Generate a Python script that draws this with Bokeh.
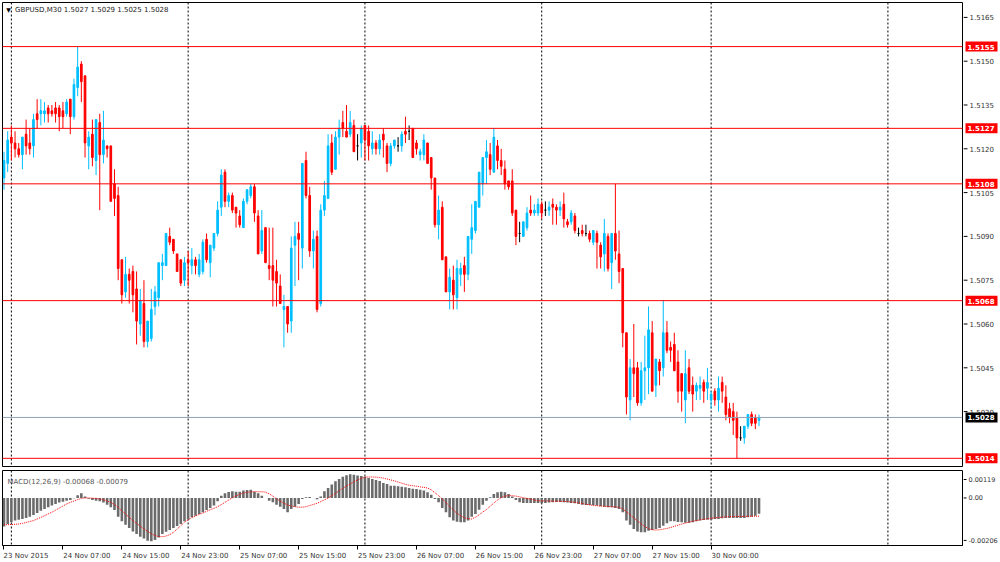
import numpy as np
from bokeh.plotting import figure
from bokeh.layouts import column, row
from bokeh.models import Range1d, FixedTicker, Span, Label, ColumnDataSource, LinearAxis
from bokeh.core.properties import value
from bokeh.embed import file_html
from bokeh.resources import INLINE

# ---------------- data ----------------
symbol_text = "GBPUSD,M30  1.5027 1.5029 1.5025 1.5028"
macd_text = "MACD(12,26,9) -0.00068 -0.00079"

opens = [
    1.5110, 1.5115, 1.5124, 1.5122, 1.5120, 1.5118, 1.5125, 1.5122, 1.5121, 1.5132,
    1.5132, 1.5132, 1.5134, 1.5133, 1.5134, 1.5134, 1.5133, 1.5132, 1.5137, 1.5131,
    1.5141, 1.5149, 1.5145, 1.5121, 1.5125, 1.5116, 1.5129, 1.5118, 1.5121, 1.5121,
    1.5108, 1.5104, 1.5082, 1.5071, 1.5077, 1.5078, 1.5072, 1.5060, 1.5067, 1.5054,
    1.5055, 1.5066, 1.5069, 1.5080, 1.5080, 1.5090, 1.5089, 1.5084, 1.5082, 1.5075,
    1.5082, 1.5080, 1.5082, 1.5077, 1.5078, 1.5089, 1.5081, 1.5086, 1.5091, 1.5100,
    1.5112, 1.5102, 1.5104, 1.5100, 1.5097, 1.5093, 1.5102, 1.5104, 1.5107, 1.5097,
    1.5085, 1.5093, 1.5080, 1.5080, 1.5078, 1.5073, 1.5065, 1.5066, 1.5061, 1.5087,
    1.5091, 1.5086, 1.5116, 1.5104, 1.5085, 1.5090, 1.5067, 1.5099, 1.5103, 1.5122,
    1.5113, 1.5124, 1.5129, 1.5126, 1.5125, 1.5128, 1.5121, 1.5122, 1.5128, 1.5126,
    1.5120, 1.5122, 1.5120, 1.5125, 1.5121, 1.5115, 1.5121, 1.5121, 1.5121, 1.5126,
    1.5126, 1.5127, 1.5122, 1.5118, 1.5118, 1.5122, 1.5117, 1.5110, 1.5094, 1.5100,
    1.5083, 1.5071, 1.5075, 1.5069, 1.5077, 1.5080, 1.5077, 1.5089, 1.5092, 1.5100,
    1.5108, 1.5117, 1.5118, 1.5112, 1.5121, 1.5116, 1.5113, 1.5109, 1.5109, 1.5099,
    1.5091, 1.5090, 1.5093, 1.5099, 1.5098, 1.5098, 1.5101, 1.5099, 1.5099, 1.5101,
    1.5100, 1.5099, 1.5101, 1.5095, 1.5095, 1.5097, 1.5091, 1.5092, 1.5091, 1.5091,
    1.5088, 1.5091, 1.5087, 1.5084, 1.5090, 1.5081, 1.5091, 1.5084, 1.5079, 1.5057,
    1.5034, 1.5045, 1.5045, 1.5033, 1.5044, 1.5045, 1.5057, 1.5039, 1.5047, 1.5045,
    1.5057, 1.5052, 1.5053, 1.5047, 1.5043, 1.5034, 1.5045, 1.5039, 1.5037, 1.5038,
    1.5040, 1.5038, 1.5034, 1.5037, 1.5034, 1.5040, 1.5035, 1.5031, 1.5030, 1.5028,
    1.5021, 1.5021, 1.5025, 1.5029, 1.5028, 1.5027,
]
highs = [
    1.5119, 1.5126, 1.5128, 1.5126, 1.5122, 1.5124, 1.5130, 1.5127, 1.5132, 1.5137,
    1.5137, 1.5136, 1.5135, 1.5135, 1.5136, 1.5135, 1.5136, 1.5137, 1.5137, 1.5144,
    1.5155, 1.5150, 1.5145, 1.5126, 1.5130, 1.5130, 1.5132, 1.5133, 1.5121, 1.5121,
    1.5113, 1.5107, 1.5082, 1.5083, 1.5079, 1.5080, 1.5078, 1.5072, 1.5075, 1.5061,
    1.5072, 1.5073, 1.5081, 1.5084, 1.5091, 1.5093, 1.5089, 1.5084, 1.5082, 1.5083,
    1.5085, 1.5086, 1.5083, 1.5084, 1.5089, 1.5091, 1.5087, 1.5091, 1.5102, 1.5113,
    1.5113, 1.5105, 1.5105, 1.5100, 1.5099, 1.5103, 1.5106, 1.5108, 1.5108, 1.5099,
    1.5099, 1.5093, 1.5093, 1.5093, 1.5082, 1.5077, 1.5070, 1.5066, 1.5090, 1.5095,
    1.5095, 1.5115, 1.5119, 1.5107, 1.5092, 1.5092, 1.5101, 1.5109, 1.5125, 1.5125,
    1.5126, 1.5130, 1.5133, 1.5135, 1.5133, 1.5130, 1.5125, 1.5128, 1.5128, 1.5128,
    1.5126, 1.5123, 1.5125, 1.5127, 1.5122, 1.5122, 1.5123, 1.5124, 1.5126, 1.5131,
    1.5128, 1.5127, 1.5123, 1.5120, 1.5125, 1.5122, 1.5117, 1.5110, 1.5104, 1.5102,
    1.5083, 1.5079, 1.5080, 1.5082, 1.5081, 1.5083, 1.5090, 1.5101, 1.5102, 1.5112,
    1.5117, 1.5123, 1.5122, 1.5127, 1.5123, 1.5120, 1.5116, 1.5109, 1.5113, 1.5099,
    1.5095, 1.5095, 1.5100, 1.5104, 1.5101, 1.5103, 1.5102, 1.5102, 1.5102, 1.5103,
    1.5101, 1.5102, 1.5105, 1.5096, 1.5099, 1.5098, 1.5093, 1.5094, 1.5094, 1.5092,
    1.5092, 1.5092, 1.5088, 1.5096, 1.5091, 1.5091, 1.5108, 1.5092, 1.5079, 1.5057,
    1.5048, 1.5060, 1.5047, 1.5047, 1.5056, 1.5066, 1.5061, 1.5048, 1.5048, 1.5068,
    1.5061, 1.5054, 1.5057, 1.5051, 1.5043, 1.5051, 1.5048, 1.5042, 1.5040, 1.5042,
    1.5041, 1.5045, 1.5037, 1.5038, 1.5042, 1.5042, 1.5039, 1.5033, 1.5033, 1.5030,
    1.5025, 1.5025, 1.5029, 1.5030, 1.5029, 1.5029,
]
lows = [
    1.5106, 1.5112, 1.5116, 1.5117, 1.5117, 1.5113, 1.5118, 1.5118, 1.5117, 1.5127,
    1.5128, 1.5129, 1.5129, 1.5131, 1.5129, 1.5126, 1.5127, 1.5131, 1.5125, 1.5130,
    1.5138, 1.5136, 1.5117, 1.5113, 1.5114, 1.5111, 1.5099, 1.5115, 1.5117, 1.5102,
    1.5097, 1.5075, 1.5067, 1.5069, 1.5067, 1.5064, 1.5053, 1.5056, 1.5052, 1.5052,
    1.5054, 1.5063, 1.5066, 1.5075, 1.5080, 1.5087, 1.5084, 1.5078, 1.5073, 1.5073,
    1.5073, 1.5077, 1.5077, 1.5076, 1.5077, 1.5081, 1.5076, 1.5085, 1.5090, 1.5097,
    1.5100, 1.5100, 1.5098, 1.5093, 1.5093, 1.5093, 1.5101, 1.5103, 1.5095, 1.5084,
    1.5084, 1.5081, 1.5075, 1.5066, 1.5066, 1.5067, 1.5052, 1.5057, 1.5057, 1.5073,
    1.5075, 1.5079, 1.5103, 1.5083, 1.5079, 1.5064, 1.5066, 1.5097, 1.5103, 1.5111,
    1.5113, 1.5118, 1.5124, 1.5124, 1.5124, 1.5119, 1.5116, 1.5117, 1.5116, 1.5116,
    1.5118, 1.5118, 1.5118, 1.5117, 1.5112, 1.5114, 1.5120, 1.5119, 1.5119, 1.5122,
    1.5123, 1.5117, 1.5118, 1.5116, 1.5116, 1.5115, 1.5106, 1.5093, 1.5089, 1.5082,
    1.5071, 1.5065, 1.5065, 1.5065, 1.5073, 1.5071, 1.5075, 1.5084, 1.5091, 1.5100,
    1.5104, 1.5108, 1.5111, 1.5112, 1.5113, 1.5111, 1.5106, 1.5106, 1.5097, 1.5087,
    1.5088, 1.5090, 1.5092, 1.5097, 1.5097, 1.5097, 1.5096, 1.5097, 1.5097, 1.5094,
    1.5094, 1.5097, 1.5093, 1.5093, 1.5094, 1.5091, 1.5090, 1.5090, 1.5090, 1.5088,
    1.5087, 1.5079, 1.5079, 1.5078, 1.5078, 1.5072, 1.5082, 1.5074, 1.5052, 1.5029,
    1.5027, 1.5035, 1.5032, 1.5032, 1.5034, 1.5036, 1.5037, 1.5035, 1.5039, 1.5042,
    1.5050, 1.5047, 1.5044, 1.5033, 1.5030, 1.5026, 1.5036, 1.5030, 1.5034, 1.5034,
    1.5033, 1.5034, 1.5031, 1.5032, 1.5030, 1.5033, 1.5027, 1.5026, 1.5022, 1.5014,
    1.5020, 1.5019, 1.5024, 1.5025, 1.5024, 1.5025,
]
closes = [
    1.5116, 1.5123, 1.5122, 1.5120, 1.5118, 1.5124, 1.5121, 1.5120, 1.5130, 1.5130,
    1.5133, 1.5133, 1.5132, 1.5132, 1.5132, 1.5131, 1.5131, 1.5136, 1.5131, 1.5142,
    1.5148, 1.5143, 1.5122, 1.5124, 1.5117, 1.5130, 1.5118, 1.5123, 1.5120, 1.5102,
    1.5103, 1.5079, 1.5070, 1.5077, 1.5075, 1.5070, 1.5061, 1.5068, 1.5054, 1.5061,
    1.5065, 1.5071, 1.5081, 1.5081, 1.5091, 1.5088, 1.5085, 1.5078, 1.5074, 1.5081,
    1.5081, 1.5082, 1.5080, 1.5082, 1.5088, 1.5082, 1.5087, 1.5091, 1.5099, 1.5111,
    1.5102, 1.5104, 1.5099, 1.5098, 1.5094, 1.5102, 1.5106, 1.5107, 1.5098, 1.5084,
    1.5092, 1.5081, 1.5079, 1.5075, 1.5074, 1.5067, 1.5066, 1.5060, 1.5086, 1.5090,
    1.5089, 1.5115, 1.5104, 1.5085, 1.5089, 1.5065, 1.5099, 1.5104, 1.5121, 1.5112,
    1.5124, 1.5127, 1.5127, 1.5124, 1.5129, 1.5119, 1.5121, 1.5127, 1.5123, 1.5121,
    1.5122, 1.5120, 1.5123, 1.5123, 1.5115, 1.5121, 1.5123, 1.5121, 1.5125, 1.5125,
    1.5126, 1.5117, 1.5120, 1.5119, 1.5123, 1.5115, 1.5110, 1.5094, 1.5099, 1.5082,
    1.5071, 1.5076, 1.5070, 1.5079, 1.5079, 1.5077, 1.5090, 1.5093, 1.5102, 1.5112,
    1.5117, 1.5119, 1.5113, 1.5124, 1.5116, 1.5114, 1.5108, 1.5107, 1.5098, 1.5090,
    1.5091, 1.5095, 1.5098, 1.5098, 1.5099, 1.5101, 1.5098, 1.5099, 1.5100, 1.5100,
    1.5099, 1.5100, 1.5096, 1.5094, 1.5098, 1.5092, 1.5091, 1.5091, 1.5091, 1.5089,
    1.5092, 1.5088, 1.5083, 1.5091, 1.5079, 1.5091, 1.5085, 1.5078, 1.5057, 1.5035,
    1.5045, 1.5043, 1.5033, 1.5044, 1.5045, 1.5058, 1.5037, 1.5048, 1.5044, 1.5057,
    1.5051, 1.5051, 1.5044, 1.5037, 1.5037, 1.5043, 1.5037, 1.5036, 1.5039, 1.5039,
    1.5037, 1.5040, 1.5036, 1.5034, 1.5038, 1.5037, 1.5029, 1.5028, 1.5027, 1.5021,
    1.5021, 1.5025, 1.5029, 1.5026, 1.5026, 1.5028,
]

# MACD main line (histogram) and signal line, in units of 0.0001
macd_main_e4 = [
    -12.4, -11.3, -10.5, -9.8, -9.4, -9.1, -8.7, -8.1, -7.4, -6.5,
    -5.5, -4.8, -4.0, -3.3, -2.6, -2.0, -1.6, -1.2, -0.9, -0.1,
    1.2, 2.0, 0.6, -0.3, -0.9, -1.2, -1.4, -2.0, -2.9, -4.0,
    -5.2, -8.1, -10.1, -11.6, -13.0, -14.5, -15.6, -16.8, -17.6, -18.5,
    -18.8, -18.2, -17.1, -15.6, -14.6, -13.9, -13.0, -12.1, -11.3, -10.1,
    -9.1, -8.4, -7.7, -6.9, -6.2, -5.2, -4.3, -3.3, -1.4, 1.0,
    2.0, 2.6, 2.9, 2.7, 2.7, 3.2, 3.5, 3.6, 2.7, 2.0,
    1.0, 0.0, -1.2, -1.9, -2.9, -3.8, -4.8, -6.2, -4.8, -3.8,
    -2.6, -0.4, 0.3, 0.4, 0.0, -0.6, 0.6, 2.9, 4.3, 5.8,
    7.2, 8.2, 9.2, 9.8, 10.3, 10.1, 9.7, 9.5, 9.2, 8.7,
    8.2, 7.8, 7.3, 6.5, 6.0, 5.3, 5.3, 5.1, 4.9, 4.6,
    4.3, 4.0, 3.9, 3.6, 3.2, 2.5, 1.4, -0.4, -1.9, -4.3,
    -6.2, -8.4, -9.8, -10.3, -10.5, -10.5, -9.8, -8.1, -6.9, -5.1,
    -2.9, -1.2, 0.3, 1.7, 2.5, 2.7, 2.5, 1.7, 0.6, -0.9,
    -1.9, -2.2, -2.2, -2.2, -2.2, -2.2, -2.3, -2.2, -2.0, -1.9,
    -1.7, -1.7, -1.9, -2.0, -2.2, -2.3, -2.6, -2.9, -3.0, -3.0,
    -3.2, -3.3, -3.6, -3.8, -4.0, -4.0, -4.3, -4.8, -6.2, -9.8,
    -11.6, -13.4, -14.5, -14.9, -14.9, -14.2, -13.9, -13.4, -13.0, -12.0,
    -11.0, -10.1, -10.1, -10.4, -10.5, -10.7, -10.7, -10.5, -10.1, -9.8,
    -9.5, -9.4, -9.4, -9.1, -9.1, -8.8, -8.7, -8.7, -8.7, -8.7,
    -8.7, -8.7, -8.4, -8.1, -7.7, -6.8,
]
macd_signal_e4 = [
    -11.6, -11.6, -11.5, -11.4, -11.3, -11.0, -10.6, -10.2, -9.8, -9.1,
    -8.4, -7.7, -6.9, -6.2, -5.3, -4.4, -3.5, -2.6, -1.9, -1.3,
    -0.7, -0.2, 0.0, 0.0, -0.1, -0.2, -0.4, -0.8, -1.3, -1.9,
    -2.9, -4.0, -5.6, -7.0, -8.4, -9.8, -11.0, -12.2, -13.4, -14.5,
    -15.5, -16.3, -16.7, -16.8, -16.5, -15.9, -14.9, -13.5, -12.0, -10.5,
    -9.5, -8.5, -7.8, -7.1, -6.5, -5.8, -5.1, -4.5, -3.8, -2.9,
    -1.9, -0.9, 0.1, 0.9, 1.6, 2.1, 2.5, 2.6, 2.7, 2.7,
    2.7, 2.5, 1.8, 0.8, -0.4, -1.4, -2.3, -3.0, -3.5, -3.8,
    -4.0, -4.0, -3.8, -3.3, -2.8, -2.3, -1.6, -0.8, 0.0, 1.0,
    2.0, 3.1, 4.2, 5.2, 6.1, 7.0, 7.8, 8.5, 9.0, 9.1,
    9.1, 9.0, 8.9, 8.6, 8.2, 7.8, 7.4, 6.9, 6.4, 5.9,
    5.5, 5.3, 5.1, 4.8, 4.6, 4.3, 3.5, 2.3, 1.0, -0.4,
    -2.0, -3.7, -5.3, -6.6, -7.7, -8.6, -9.0, -9.1, -8.4, -7.3,
    -6.1, -5.0, -3.6, -2.2, -0.9, 0.2, 0.8, 1.0, 1.0, 0.8,
    0.5, 0.1, -0.2, -0.5, -0.9, -1.2, -1.3, -1.3, -1.3, -1.4,
    -1.4, -1.4, -1.5, -1.6, -1.7, -1.9, -2.1, -2.4, -2.7, -3.0,
    -3.2, -3.4, -3.5, -3.6, -3.7, -3.8, -3.9, -4.0, -4.8, -6.0,
    -7.3, -8.6, -9.9, -11.2, -12.4, -13.3, -13.8, -13.9, -13.8, -13.5,
    -13.2, -12.8, -12.3, -11.8, -11.3, -10.9, -10.5, -10.1, -9.8, -9.5,
    -9.2, -9.0, -8.8, -8.6, -8.5, -8.3, -8.2, -8.1, -8.1, -8.0,
    -8.0, -8.0, -7.9, -7.9, -7.9, -7.9,
]

price_ticks = [1.5030, 1.5045, 1.5060, 1.5075, 1.5090, 1.5105, 1.5120, 1.5135, 1.5150, 1.5165]
level_prices = [1.5155, 1.5127, 1.5108, 1.5068, 1.5014]
level_texts = ["1.5155", "1.5127", "1.5108", "1.5068", "1.5014"]
bid_price = 1.5028
bid_text = "1.5028"
time_tick_bars = [0, 16, 32, 48, 64, 80, 96, 112, 128, 144, 160, 176, 192]
time_tick_labels = ["23 Nov 2015", "24 Nov 07:00", "24 Nov 15:00", "24 Nov 23:00",
                    "25 Nov 07:00", "25 Nov 15:00", "25 Nov 23:00", "26 Nov 07:00",
                    "26 Nov 15:00", "26 Nov 23:00", "27 Nov 07:00", "27 Nov 15:00",
                    "30 Nov 00:00"]
day_sep_bars = [2, 50, 98, 146, 192, 240]
macd_tick_values = [0.0008, 0.0, -0.00184]
macd_tick_labels = ["0.00119", "0.00", "-0.00206"]

# ---------------- styling ----------------
FONT = "DejaVu Sans"
BULL = "#00bfff"
BEAR = "#ff0000"
DOJI = "#000000"
LABEL_COL = "#333333"
BAR_PX = 3.683          # pixel width of one bar slot
CHAR_PX = 4.0           # approx. glyph width of the 7px axis font
SCALE_W = 37            # width of the price-scale strip

n = len(closes)
idx = np.arange(n)
o = np.array(opens); h = np.array(highs); l = np.array(lows); c = np.array(closes)
col = np.where(c > o, BULL, np.where(c < o, BEAR, DOJI))
src = ColumnDataSource(dict(x=idx, h=h, l=l, top=np.maximum(o, c), bot=np.minimum(o, c), col=col))

XR = Range1d(-0.407, 260.25)
YR = Range1d(1.50112, 1.51701)
MR = Range1d(-0.00206, 0.00119)
SR = Range1d(0, SCALE_W)


def plain(fig):
    fig.xgrid.visible = False
    fig.ygrid.visible = False
    fig.background_fill_color = "white"
    fig.border_fill_color = "white"


def scale_strip(yr, fh, top, bottom):
    s = figure(frame_width=SCALE_W, frame_height=fh, x_range=SR, y_range=yr,
               output_backend="svg", toolbar_location=None, x_axis_location=None,
               y_axis_location=None, min_border_left=0, min_border_right=0,
               min_border_top=top, min_border_bottom=bottom)
    plain(s)
    s.outline_line_color = None
    return s


# ---------------- main price panel ----------------
p1 = figure(frame_width=960, frame_height=464, x_range=XR, y_range=YR,
            output_backend="svg", toolbar_location=None, x_axis_location=None,
            y_axis_location=None, min_border_left=2, min_border_right=1,
            min_border_top=2, min_border_bottom=1)
plain(p1)
p1.outline_line_color = "black"

for g in day_sep_bars:
    p1.add_layout(Span(location=g, dimension="height", line_color="black",
                       line_dash="2 2", line_width=1, level="underlay"))

p1.segment(x0="x", y0="l", x1="x", y1="h", source=src, line_color="col", line_width=1)
p1.vbar(x="x", width=0.45, top="top", bottom="bot", source=src,
        fill_color="col", line_color="col", line_width=1)

for lp in level_prices:
    p1.add_layout(Span(location=lp, dimension="width", line_color="#ff0000", line_width=1))
p1.add_layout(Span(location=bid_price, dimension="width", line_color="#8fa1b5", line_width=1))

p1.add_layout(Label(x=0.6, y=1.51677, text="\u25BC", text_font=FONT, text_font_size="6px",
                    text_color="#000000", text_align="left", text_baseline="middle"))
p1.add_layout(Label(x=3.0, y=1.51677, text=symbol_text, text_font=FONT, text_font_size="7px",
                    text_color="#222222", text_align="left", text_baseline="middle"))

# price scale strip with ticks, labels and the level tags
pr = scale_strip(YR, 464, 2, 1)
pr.segment(x0=0, y0=price_ticks, x1=4, y1=price_ticks, line_color="black", line_width=1)
pr.text(x=6, y=price_ticks, text=["%.4f" % t for t in price_ticks], text_color=LABEL_COL,
        text_font=value(FONT), text_font_size="7px", text_align="left", text_baseline="middle")
tag_src = ColumnDataSource(dict(y=level_prices + [bid_price],
                                text=level_texts + [bid_text],
                                fill=["#ff0000"] * len(level_prices) + ["#000000"]))
pr.rect(x=18, y="y", width=32, height=10, height_units="screen", source=tag_src,
        fill_color="fill", line_color=None)
pr.text(x=4, y="y", text="text", source=tag_src, text_color="white",
        text_font=value(FONT), text_font_size="7px", text_font_style="bold",
        text_align="left", text_baseline="middle")

# ---------------- MACD panel ----------------
macd = np.array(macd_main_e4) * 1e-4
sig = np.array(macd_signal_e4) * 1e-4

p2 = figure(frame_width=960, frame_height=75, x_range=XR, y_range=MR,
            output_backend="svg", toolbar_location=None, y_axis_location=None,
            min_border_left=2, min_border_right=1, min_border_top=3, min_border_bottom=17)
plain(p2)
p2.outline_line_color = "black"

# tick marks of the time scale (no text)
axt = p2.xaxis[0]
axt.ticker = FixedTicker(ticks=time_tick_bars)
axt.major_label_overrides = {b: " " for b in time_tick_bars}
axt.major_label_text_font_size = "1px"
axt.major_tick_out = 4
axt.major_tick_in = 0
axt.minor_tick_out = 0
axt.minor_tick_in = 0
axt.major_label_standoff = 0
axt.axis_line_color = "black"

# time labels, written to the right of their tick (MT4 style)
label_centres = [b + len(t) * CHAR_PX / 2.0 / BAR_PX for b, t in zip(time_tick_bars, time_tick_labels)]
axl = LinearAxis(ticker=FixedTicker(ticks=label_centres),
                 major_label_overrides={cpos: t for cpos, t in zip(label_centres, time_tick_labels)})
axl.major_label_text_font = FONT
axl.major_label_text_font_size = "7px"
axl.major_label_text_color = LABEL_COL
axl.major_tick_out = 0
axl.major_tick_in = 0
axl.minor_tick_out = 0
axl.minor_tick_in = 0
axl.major_label_standoff = -2
axl.axis_line_color = None
p2.add_layout(axl, "below")

for g in day_sep_bars:
    p2.add_layout(Span(location=g, dimension="height", line_color="black",
                       line_dash="2 2", line_width=1, level="underlay"))

p2.vbar(x=idx, width=0.7, top=macd, bottom=0, fill_color="#6b6b6b", line_color=None)
p2.line(idx, sig, line_color="#ff0000", line_width=1, line_dash="1 1")

p2.add_layout(Label(x=0.95, y=0.00071, text=macd_text, text_font=FONT, text_font_size="7px",
                    text_color="#555555", text_align="left", text_baseline="middle"))

# MACD scale strip
p2r = scale_strip(MR, 75, 3, 17)
p2r.segment(x0=0, y0=macd_tick_values, x1=3, y1=macd_tick_values, line_color="black", line_width=1)
p2r.text(x=5, y=macd_tick_values, text=macd_tick_labels, text_color=LABEL_COL,
         text_font=value(FONT), text_font_size="6.5px", text_align="left", text_baseline="middle")

layout = column(row(p1, pr, spacing=0), row(p2, p2r, spacing=0), spacing=0)
open("out.html", "w").write(file_html(layout, INLINE))
